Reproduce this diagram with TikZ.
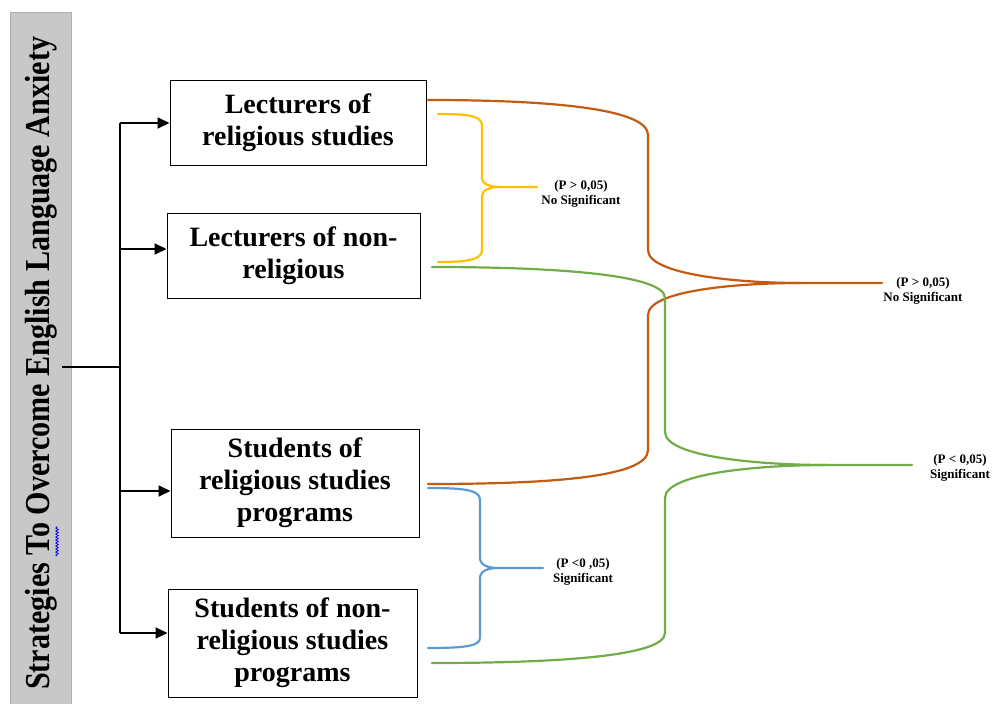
\documentclass[tikz,border=0pt]{standalone}
\usepackage{fontspec}
\setmainfont{Liberation Serif}
\usetikzlibrary{arrows.meta,decorations.pathmorphing}
\definecolor{cOr}{HTML}{C55A11}
\definecolor{cGr}{HTML}{70AD47}
\definecolor{cYe}{HTML}{FFC000}
\definecolor{cBl}{HTML}{5B9BD5}
\definecolor{barfill}{RGB}{200,200,200}
\definecolor{barline}{RGB}{175,175,175}
\begin{document}
\begin{tikzpicture}[x=1pt,y=-1pt,
  box/.style={draw=black, line width=1pt, align=center, inner sep=0pt,
    font=\bfseries\fontsize{28}{32}\selectfont},
  lab/.style={align=center, inner sep=0pt, font=\bfseries\fontsize{13}{15}\selectfont},
  tree/.style={line width=2pt, black},
  arr/.style={tree, -{Triangle[length=12pt,width=11pt]}},
  crv/.style={line width=2.2pt, line cap=round}]
\useasboundingbox (0,0) rectangle (994,704);
% side bar
\filldraw[fill=barfill, draw=barline, line width=0.8pt] (10,12) rectangle (71,710);
\node[rotate=90, anchor=base west, inner sep=0pt,
  font=\bfseries\fontsize{35}{40}\selectfont] (title) at (49,690)
  {\scalebox{0.86}[1]{Strategies To Overcome English Language Anxiety}};
\draw[blue, line width=0.8pt, decorate,
  decoration={snake, amplitude=1.2pt, segment length=3pt}] (57,556) -- (57,526);
% boxes
\node[box, minimum width=256pt, minimum height=85pt] (b1) at (298,122.5) {Lecturers of\\religious studies};
\node[box, minimum width=253pt, minimum height=85pt] (b2) at (293.5,255.5) {Lecturers of non-\\religious};
\node[box, minimum width=248pt, minimum height=108pt] (b3) at (295,483) {Students of\\religious studies\\programs};
\node[box, minimum width=249pt, minimum height=108pt] (b4) at (292.5,643) {Students of non-\\religious studies\\programs};
% tree
\coordinate (root) at (62,367);
\coordinate (jr) at (120,367);
\coordinate (t1) at (120,123);
\coordinate (t2) at (120,249);
\coordinate (t3) at (120,491);
\coordinate (t4) at (120,633);
\draw[tree] (t1) -- (t4);
\draw[tree] (root) -- (jr);
\draw[arr] (t1) -- (b1.west |- t1);
\draw[arr] (t2) -- (b2.west |- t2);
\draw[arr] (t3) -- (b3.west |- t3);
\draw[arr] (t4) -- (b4.west |- t4);
% labels
\node[lab] (l1) at (581,193.5) {(P > 0,05)\\No Significant};
\node[lab] (l2) at (923,290.5) {(P > 0,05)\\No Significant};
\node[lab] (l3) at (960,467.5) {(P < 0,05)\\Significant};
\node[lab] (l4) at (583,571.5) {(P <0 ,05)\\Significant};
% yellow brace
\coordinate (yA) at (438,114);
\coordinate (yB) at (438,262);
\coordinate (yJ) at (500,187);
\coordinate (yT) at (537,187);
\draw[crv, cYe] (yA) .. controls (470,114) and (482,116) .. (482,126) -- (482,178)
  .. controls (482,184) and (490,187) .. (yJ) -- (yT);
\draw[crv, cYe] (yJ) .. controls (490,187) and (482,190) .. (482,196) -- (482,250)
  .. controls (482,259) and (470,262) .. (yB);
% blue brace
\coordinate (bA) at (428,488);
\coordinate (bB) at (428,648);
\coordinate (bJ) at (498,568);
\coordinate (bT) at (543,568);
\draw[crv, cBl] (bA) .. controls (465,488) and (480,490) .. (480,500) -- (480,558)
  .. controls (480,565) and (488,568) .. (bJ) -- (bT);
\draw[crv, cBl] (bJ) .. controls (488,568) and (480,571) .. (480,578) -- (480,638)
  .. controls (480,646) and (465,648) .. (bB);
% orange brace
\coordinate (oA) at (428,100);
\coordinate (oB) at (428,484);
\coordinate (oJ) at (800,283);
\coordinate (oT) at (882,283);
\draw[crv, cOr] (oA) .. controls (560,100) and (648,110) .. (648,135) -- (648,250)
  .. controls (648,275) and (740,283) .. (oJ) -- (oT);
\draw[crv, cOr] (oJ) .. controls (740,283) and (648,290) .. (648,315) -- (648,450)
  .. controls (648,476) and (560,484) .. (oB);
% green brace
\coordinate (gA) at (432,267);
\coordinate (gB) at (432,663);
\coordinate (gJ) at (827,465);
\coordinate (gT) at (912,465);
\draw[crv, cGr] (gA) .. controls (560,267) and (665,275) .. (665,298) -- (665,432)
  .. controls (665,457) and (760,465) .. (gJ) -- (gT);
\draw[crv, cGr] (gJ) .. controls (760,465) and (665,473) .. (665,498) -- (665,633)
  .. controls (665,656) and (560,663) .. (gB);
\end{tikzpicture}
\end{document}
